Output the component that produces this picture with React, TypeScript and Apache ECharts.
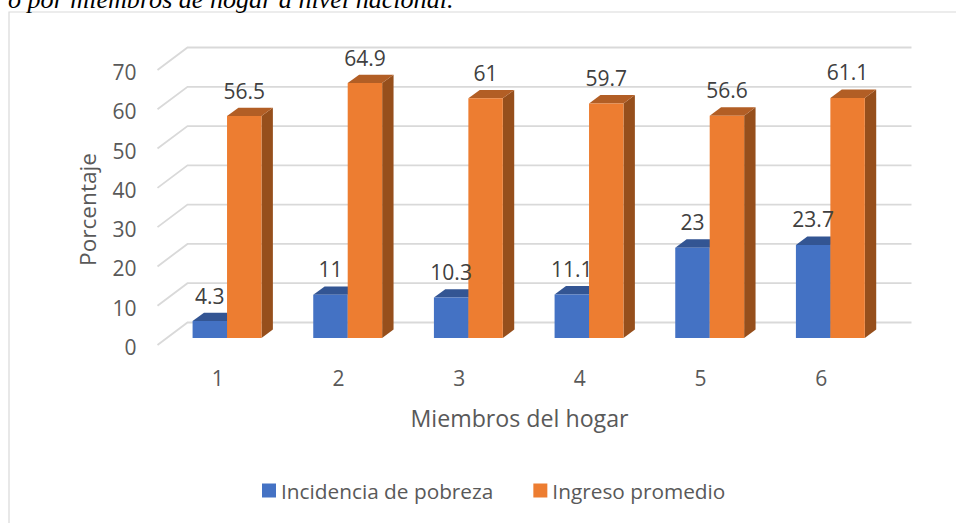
import React, { useEffect, useRef } from "react";
import * as echarts from "echarts";

const categories = ["1", "2", "3", "4", "5", "6"];
const pobreza = [4.3, 11, 10.3, 11.1, 23, 23.7];
const ingreso = [56.5, 64.9, 61, 59.7, 56.6, 61.1];
const gridTicks = [0, 10, 20, 30, 40, 50, 60, 70];

const FONT = "'Open Sans', sans-serif";
const OFF_X = 9.2, OFF_Y = -9; // bars stand inside the 3D floor
const DX = 11.4, DY = -8.4; // depth of a bar
const WALL_X = 30, WALL_Y = -22.5, WALL_START = -2; // depth of the floor

function barRenderer(side: number, face: string, top: string, right: string) {
  return (params: any, api: any) => {
    const v = api.value(1);
    const c = api.coord([api.value(0), v]);
    const b = api.coord([api.value(0), 0]);
    const w = api.size([1, 0])[0] * 0.2855;
    const x0 = c[0] + OFF_X + (side < 0 ? -w : 0);
    const x1 = x0 + w;
    const yT = c[1] + OFF_Y;
    const yB = b[1] + OFF_Y;
    return {
      type: "group",
      children: [
        { type: "polygon", shape: { points: [[x1, yT], [x1 + DX, yT + DY], [x1 + DX, yB + DY], [x1, yB]] }, style: { fill: right } },
        { type: "polygon", shape: { points: [[x0, yT], [x0 + DX, yT + DY], [x1 + DX, yT + DY], [x1, yT]] }, style: { fill: top } },
        { type: "rect", shape: { x: x0, y: yT, width: w, height: yB - yT }, style: { fill: face } },
        {
          type: "text", z2: 100,
          style: {
            text: String(v), x: x0 + w / 2, y: yT - 25.5, align: "center", verticalAlign: "middle",
            font: `21px ${FONT}`, fill: "#404040",
          },
        },
      ],
    };
  };
}

function wallRenderer(params: any, api: any) {
  const y = api.coord([0, api.value(0)])[1] + WALL_START;
  const cs = params.coordSys;
  return {
    type: "polyline",
    shape: { points: [[cs.x, y], [cs.x + WALL_X, y + WALL_Y], [cs.x + WALL_X + cs.width, y + WALL_Y]] },
    style: { stroke: "#d9d9d9", lineWidth: 1.8, fill: "none" },
  };
}

export default function App() {
  const ref = useRef<HTMLDivElement>(null);
  useEffect(() => {
    const chart = echarts.init(ref.current!, null, { renderer: "svg" });
    chart.setOption({
      animation: false,
      backgroundColor: "#fff",
      grid: { left: 157.5, width: 724, top: 72, height: 275 },
      legend: {
        data: ["Incidencia de pobreza", "Ingreso promedio"],
        left: 262, top: 480, padding: 0, icon: "rect", itemWidth: 14, itemHeight: 14, itemGap: 40,
        textStyle: { fontFamily: FONT, fontSize: 20.8, color: "#595959" },
      },
      xAxis: {
        type: "category", data: categories,
        name: "Miembros del hogar", nameLocation: "middle", nameGap: 59,
        nameTextStyle: { fontFamily: FONT, fontSize: 23.2, color: "#595959" },
        axisLine: { show: false }, axisTick: { show: false },
        axisLabel: { fontFamily: FONT, fontSize: 21, color: "#595959", margin: 20 },
      },
      yAxis: {
        type: "value", min: 0, max: 70, interval: 10,
        name: "Porcentaje", nameLocation: "middle", nameGap: 59,
        nameTextStyle: { fontFamily: FONT, fontSize: 22.6, color: "#595959" },
        axisLine: { show: false }, axisTick: { show: false }, splitLine: { show: false },
        axisLabel: { fontFamily: FONT, fontSize: 21, color: "#595959", margin: 21 },
      },
      series: [
        {
          type: "custom", name: "paredes", renderItem: wallRenderer, silent: true,
          data: gridTicks.map((t) => [t]), encode: { y: 0 },
        },
        {
          type: "custom", name: "Incidencia de pobreza",
          renderItem: barRenderer(-1, "#4472C4", "#335593", "#2A4A80"),
          itemStyle: { color: "#4472C4" },
          data: pobreza.map((v, i) => [i, v]), encode: { x: 0, y: 1 },
        },
        {
          type: "custom", name: "Ingreso promedio",
          renderItem: barRenderer(1, "#ED7D31", "#B25E25", "#964F1C"),
          itemStyle: { color: "#ED7D31" },
          data: ingreso.map((v, i) => [i, v]), encode: { x: 0, y: 1 },
        },
      ],
      graphic: [
        {
          type: "polyline", silent: true,
          shape: { points: [[9, 523], [9, 12], [956, 12]] },
          style: { stroke: "#d9d9d9", lineWidth: 1.2, fill: "none" },
        },
        {
          type: "text", x: 8, y: 12,
          style: {
            text: "o por miembros de hogar a nivel nacional.",
            font: "italic 26.1px 'Liberation Serif', serif", fill: "#000",
            verticalAlign: "bottom", align: "left",
          },
        },
      ],
    });
    return () => chart.dispose();
  }, []);
  return <div ref={ref} style={{ position: "absolute", left: 0, top: 0, width: 956, height: 523 }} />;
}
